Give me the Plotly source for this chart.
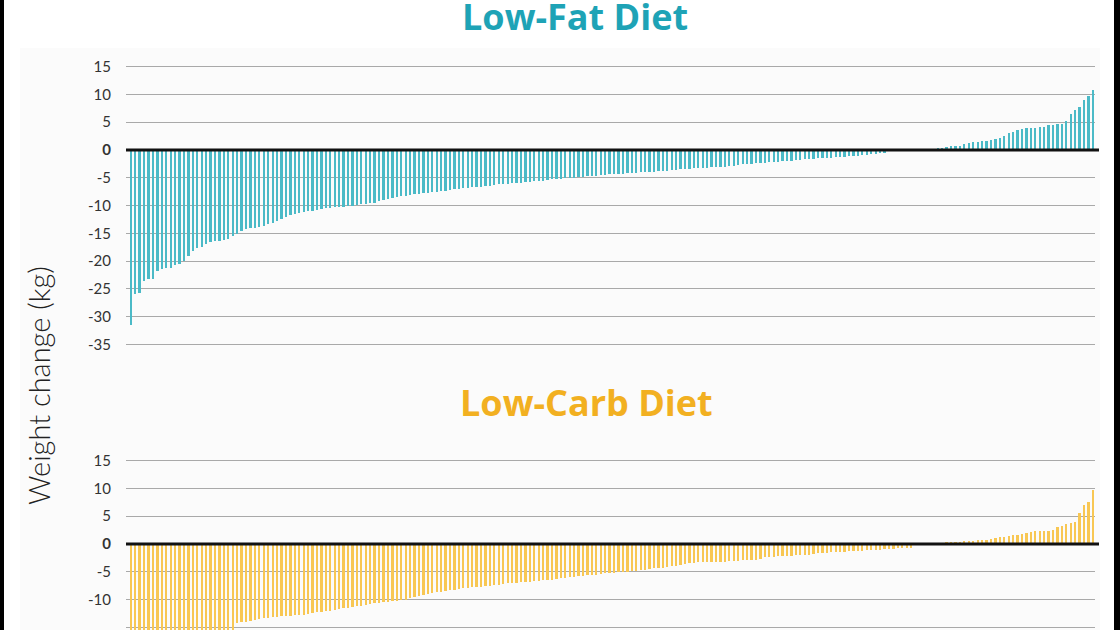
import plotly.graph_objects as go

# ---------------- data (kg change per participant, sorted) ----------------
low_fat_change = [
    -31.3, -25.9, -25.6, -23.4, -23.2, -23.1, -21.7, -21.3, -21.2, -21.1,
    -20.6, -20.5, -19.8, -19.0, -18.1, -17.6, -17.4, -16.9, -16.4, -16.3,
    -16.2, -16.1, -16.0, -15.4, -15.1, -14.5, -14.2, -14.0, -13.9, -13.8,
    -13.5, -13.2, -13.0, -12.7, -12.4, -12.0, -11.6, -11.4, -11.2, -11.0,
    -10.9, -10.8, -10.7, -10.5, -10.4, -10.3, -10.2, -10.1, -10.1, -9.9,
    -9.9, -9.8, -9.7, -9.6, -9.5, -9.4, -9.1, -8.9, -8.8, -8.6, -8.4,
    -8.2, -8.1, -8.0, -7.9, -7.8, -7.7, -7.6, -7.5, -7.4, -7.3,
    -7.2, -7.1, -7.0, -6.9, -6.8, -6.7, -6.6, -6.6, -6.5, -6.4, -6.3, -6.2, -6.1,
    -6.0, -6.0, -5.9, -5.8, -5.8, -5.7, -5.6, -5.5, -5.5, -5.4, -5.3,
    -5.2, -5.1, -5.1, -5.0, -4.9, -4.9, -4.8, -4.7, -4.6, -4.6, -4.5, -4.4,
    -4.4, -4.3, -4.3, -4.2, -4.2, -4.1, -4.0, -4.0, -3.9, -3.9, -3.8,
    -3.8, -3.7, -3.7, -3.6, -3.5, -3.5, -3.4, -3.3, -3.3, -3.2, -3.1,
    -3.1, -3.1, -3.0, -3.0, -3.0, -2.9, -2.8, -2.7, -2.6, -2.5,
    -2.4, -2.4, -2.3, -2.3, -2.2, -2.1, -2.1, -2.0, -1.9, -1.9, -1.8,
    -1.7, -1.7, -1.6, -1.6, -1.5, -1.4, -1.4, -1.3, -1.3,
    -1.2, -1.1, -1.1, -1.0, -0.9, -0.9, -0.8, -0.8,
    -0.7, -0.6, -0.5, -0.5,
    0, 0, 0, 0, 0, 0, 0, 0, 0,
    0.2, 0.3, 0.4, 0.5, 0.6, 0.8, 0.8, 0.9, 1.1, 1.3,
    1.5, 1.6, 1.7, 1.8, 1.9, 2.1, 2.3, 2.6, 3.1, 3.4,
    3.7, 3.9, 4.0, 4.1, 4.1, 4.2, 4.3, 4.5, 4.6, 4.7,
    4.8, 5.3, 6.5, 7.3, 7.9, 9.0, 9.8, 10.8,
]

low_carb_change = [
    -28.5, -24.0, -22.0, -21.0, -20.2, -19.6, -19.0, -18.5, -18.1, -17.8,
    -17.5, -17.2, -16.9, -16.7, -16.5, -16.3, -16.1, -15.9, -15.8, -15.7,
    -15.6, -15.5, -15.4, -15.3,
    -14.2, -14.0, -13.9, -13.7, -13.6, -13.4,
    -13.3, -13.2, -13.1, -13.0, -12.9, -12.9, -12.8, -12.7, -12.7,
    -12.6, -12.5, -12.4, -12.2, -12.1, -12.0, -11.9,
    -11.8, -11.6, -11.5, -11.4, -11.2, -11.1, -11.0, -10.8,
    -10.7, -10.6, -10.5, -10.4, -10.3, -10.2, -10.1,
    -10.0, -9.9, -9.6, -9.4, -9.2, -9.0, -8.9, -8.7,
    -8.6, -8.5, -8.4, -8.2, -8.1, -8.0, -7.9, -7.8,
    -7.7, -7.7, -7.6, -7.5, -7.4, -7.3, -7.2,
    -7.1, -7.0, -6.9, -6.9, -6.8, -6.7, -6.7, -6.6,
    -6.5, -6.4, -6.4, -6.3, -6.2, -6.1, -6.0,
    -5.9, -5.8, -5.7, -5.6, -5.5, -5.5, -5.4, -5.3,
    -5.2, -5.2, -5.1, -5.0, -5.0, -4.9, -4.8,
    -4.7, -4.6, -4.5, -4.4, -4.3, -4.2, -4.2, -4.1,
    -3.9, -3.8, -3.7, -3.5, -3.4, -3.3, -3.2,
    -3.2, -3.2, -3.1, -3.1, -3.1, -3.1,
    -3.0, -2.9, -2.9, -2.8, -2.8, -2.7, -2.7, -2.6, -2.3, -2.2,
    -2.2, -2.1, -2.1, -2.0, -2.0, -1.9, -1.9,
    -1.8, -1.8, -1.7, -1.6, -1.6, -1.5, -1.4,
    -1.4, -1.3, -1.3, -1.2, -1.2, -1.1, -1.1, -1.0,
    -1.0, -0.9, -0.9, -0.8, -0.8, -0.8, -0.7, -0.7, -0.6, -0.6,
    0, 0, 0, 0, 0, 0, 0,
    0.4, 0.4, 0.5, 0.5, 0.6, 0.6, 0.7, 0.8, 0.8, 0.9,
    1.0, 1.1, 1.3, 1.4, 1.6, 1.7, 1.8, 1.9, 2.0, 2.2,
    2.4, 2.4, 2.5, 2.5, 2.6, 3.2, 3.4, 3.6, 3.8, 4.0,
    5.6, 7.1, 7.7, 9.8,
]

top_ticks = [-35, -30, -25, -20, -15, -10, -5, 0, 5, 10, 15]
bottom_ticks = [-15, -10, -5, 0, 5, 10, 15]
panel_titles = ["Low-Fat Diet", "Low-Carb Diet"]
y_title = "Weight change (kg)"

# ---------------- styling ----------------
W, H = 1120, 630
TEAL_BAR = "#4bbac7"
TEAL_TITLE = "#1ea3b6"
GOLD_BAR = "#f8c753"
GOLD_TITLE = "#f2b021"
GRID = "#a9a9a9"


def fx(px):
    return px / W


def fy(py):
    return 1 - py / H


def tick_text(vals):
    return ["<b>0</b>" if v == 0 else str(v) for v in vals]


fig = go.Figure()
fig.add_trace(go.Bar(
    x=list(range(len(low_fat_change))), y=low_fat_change,
    marker=dict(color=TEAL_BAR, line=dict(width=0)), width=0.4,
    xaxis="x", yaxis="y", hoverinfo="skip", showlegend=False))
fig.add_trace(go.Bar(
    x=list(range(len(low_carb_change))), y=low_carb_change,
    marker=dict(color=GOLD_BAR, line=dict(width=0)), width=0.4,
    xaxis="x2", yaxis="y2", hoverinfo="skip", showlegend=False))

x_dom = [fx(126), fx(1094.5)]
x_rng = [-1.13, 217.3]
tickfont = dict(family="Lato", size=15, color="#333333")

fig.update_layout(
    width=W, height=H, autosize=False,
    margin=dict(l=0, r=0, t=0, b=0),
    paper_bgcolor="white", plot_bgcolor="rgba(0,0,0,0)",
    bargap=0,
    xaxis=dict(domain=x_dom, range=x_rng, visible=False, anchor="y"),
    xaxis2=dict(domain=x_dom, range=x_rng, visible=False, anchor="y2"),
    yaxis=dict(domain=[fy(355.7), fy(55.5)], range=[-37, 17], anchor="x",
               tickvals=top_ticks, ticktext=tick_text(top_ticks),
               showgrid=True, gridcolor=GRID, gridwidth=1, zeroline=False,
               showline=False, ticks="", ticklabelstandoff=14, tickfont=tickfont),
    yaxis2=dict(domain=[0, fy(449.5)], range=[-15.47, 17], anchor="x2",
                tickvals=bottom_ticks, ticktext=tick_text(bottom_ticks),
                showgrid=True, gridcolor=GRID, gridwidth=1, zeroline=False,
                showline=False, ticks="", ticklabelstandoff=14, tickfont=tickfont),
)

shapes = [
    # faint panel background
    dict(type="rect", xref="paper", yref="paper", x0=fx(20), x1=fx(1100),
         y0=0, y1=fy(48), fillcolor="#fbfbfb", line=dict(width=0), layer="below"),
    # black frame edges
    dict(type="rect", xref="paper", yref="paper", x0=0, x1=fx(4), y0=0, y1=1,
         fillcolor="black", line=dict(width=0)),
    dict(type="rect", xref="paper", yref="paper", x0=fx(1114), x1=1, y0=0, y1=1,
         fillcolor="black", line=dict(width=0)),
    # zero baselines
    dict(type="line", xref="paper", yref="y", x0=fx(126), x1=fx(1099), y0=0, y1=0,
         line=dict(color="#111111", width=3), layer="above"),
    dict(type="line", xref="paper", yref="y2", x0=fx(126), x1=fx(1099), y0=0, y1=0,
         line=dict(color="#111111", width=3), layer="above"),
]
fig.update_layout(shapes=shapes)

fig.add_annotation(text="<b>" + panel_titles[0] + "</b>", xref="paper", yref="paper",
                   x=fx(575), y=fy(16), xanchor="center", yanchor="middle",
                   showarrow=False, font=dict(family="Open Sans", size=36, color=TEAL_TITLE))
fig.add_annotation(text="<b>" + panel_titles[1] + "</b>", xref="paper", yref="paper",
                   x=fx(586), y=fy(403), xanchor="center", yanchor="middle",
                   showarrow=False, font=dict(family="Open Sans", size=36, color=GOLD_TITLE))
fig.add_annotation(text=y_title, xref="paper", yref="paper",
                   x=fx(38), y=fy(386), xanchor="center", yanchor="middle",
                   textangle=-90, showarrow=False,
                   font=dict(family="Lato", size=29, color="#222222", weight=300))

fig.write_html("out.html", config={"displayModeBar": False},
               post_script="document.body.style.margin='0';document.body.style.overflow='hidden';")
